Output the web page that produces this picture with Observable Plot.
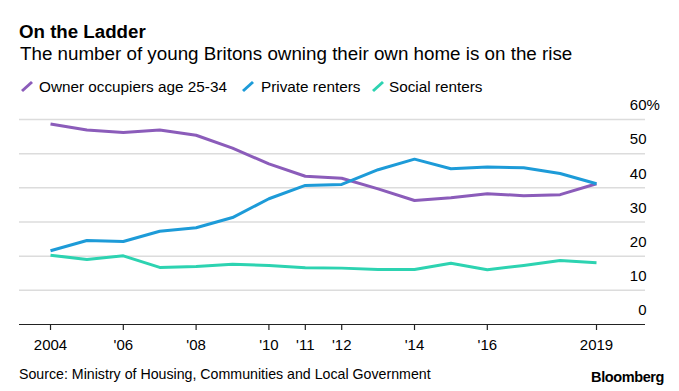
<!DOCTYPE html>
<html><head><meta charset="utf-8">
<script src="https://cdn.jsdelivr.net/npm/d3@7"></script>
<script src="https://cdn.jsdelivr.net/npm/@observablehq/plot@0.6"></script>
<style>
body{margin:0;background:#fff;font-family:"Liberation Sans",Arial,sans-serif;color:#000;}
#wrap{position:relative;width:679px;height:391px;overflow:hidden;background:#fff;}
.abs{position:absolute;white-space:nowrap;line-height:1;}
#title{left:19px;top:23.2px;font-size:18.7px;font-weight:bold;}
#subtitle{left:20px;top:45.1px;font-size:18.8px;}
.leg{top:79px;font-size:15.3px;}
#chart{left:0;top:95px;}
#source{left:19px;top:367.3px;font-size:14.2px;}
#brand{right:15px;top:370.4px;font-size:14.5px;font-weight:bold;letter-spacing:-0.4px;}
</style></head><body><div id="wrap">
<div id="title" class="abs">On the Ladder</div>
<div id="subtitle" class="abs">The number of young Britons owning their own home is on the rise</div>
<div id="legend"></div>
<div id="chart" class="abs"></div>
<div id="source" class="abs">Source: Ministry of Housing, Communities and Local Government</div>
<div id="brand" class="abs">Bloomberg</div>
</div>
<script>
const years = [2004,2005,2006,2007,2008,2009,2010,2011,2012,2013,2014,2015,2016,2017,2018,2019];
const ownerOccupiers = [58.7,56.9,56.2,56.9,55.4,51.6,47.0,43.4,42.8,39.7,36.3,37.1,38.3,37.7,38.0,41.2];
const privateRenters = [21.6,24.6,24.3,27.3,28.3,31.3,36.8,40.7,41.0,45.3,48.4,45.6,46.1,45.9,44.2,41.2];
const socialRenters  = [20.3,19.0,20.1,16.7,17.0,17.6,17.3,16.6,16.5,16.1,16.1,17.9,16.0,17.3,18.7,18.1];
const seriesNames = ["Owner occupiers age 25-34","Private renters","Social renters"];
const seriesColors = ["#8b5cba","#1d9bd8","#2dd3b1"];
const xTicks = [2004,2006,2008,2010,2011,2012,2014,2016,2019];
const xTickLabels = ["2004","'06","'08","'10","'11","'12","'14","'16","2019"];
const yTicks = [0,10,20,30,40,50,60];

const seriesValues = [ownerOccupiers, privateRenters, socialRenters];
const rows = [];
seriesNames.forEach((name, i) => years.forEach((yr, j) => rows.push({series:name, year:yr, value:seriesValues[i][j]})));

// legend
const legend = document.getElementById("legend");
const legSlash = [20, 241, 371];
const legText = [39, 261, 389];
seriesNames.forEach((name, i) => {
  const s = document.createElement("div");
  s.className = "abs";
  s.style.left = legSlash[i] + "px";
  s.style.top = "80px";
  s.innerHTML = `<svg width="14" height="13" style="display:block"><line x1="2" y1="11" x2="12" y2="2" stroke="${seriesColors[i]}" stroke-width="3" stroke-linecap="butt"/></svg>`;
  legend.appendChild(s);
  const t = document.createElement("div");
  t.className = "abs leg";
  t.style.left = legText[i] + "px";
  t.textContent = name;
  legend.appendChild(t);
});

const xMin = 2003.148, xMax = 2020.346;
const chart = Plot.plot({
  width: 679, height: 267,
  marginTop: 24, marginBottom: 38, marginLeft: 19, marginRight: 34,
  style: {fontFamily: '"Liberation Sans", Arial, sans-serif', fontSize: "15px", color: "#000", background: "#fff"},
  x: {domain: [xMin, xMax], axis: null},
  y: {domain: [0, 60], axis: null},
  color: {domain: seriesNames, range: seriesColors},
  marks: [
    Plot.ruleY(yTicks.filter(d => d > 0), {y: d => d, stroke: "#dcdcdc", strokeWidth: 1.5}),
    Plot.axisX({ticks: xTicks, tickFormat: d => xTickLabels[xTicks.indexOf(d)], tickSize: 6, tickPadding: 9, fontSize: 15, stroke: "#222", strokeWidth: 1.2, anchor: "bottom", label: null}),
    Plot.ruleY([0], {stroke: "#222", strokeWidth: 1.2}),
    Plot.line(rows, {x: "year", y: "value", z: "series", stroke: "series", strokeWidth: 3, strokeLinejoin: "round", strokeLinecap: "butt"}),
    Plot.text(yTicks, {x: xMax, y: d => d, text: d => String(d), textAnchor: "end", dy: -14, dx: 1, fontSize: 15, fill: "#000"}),
    Plot.text([yTicks[yTicks.length - 1]], {x: xMax, y: d => d, text: () => "%", textAnchor: "start", dy: -14, dx: 1, fontSize: 15, fill: "#000"})
  ]
});
document.getElementById("chart").appendChild(chart);
</script>
</body></html>
